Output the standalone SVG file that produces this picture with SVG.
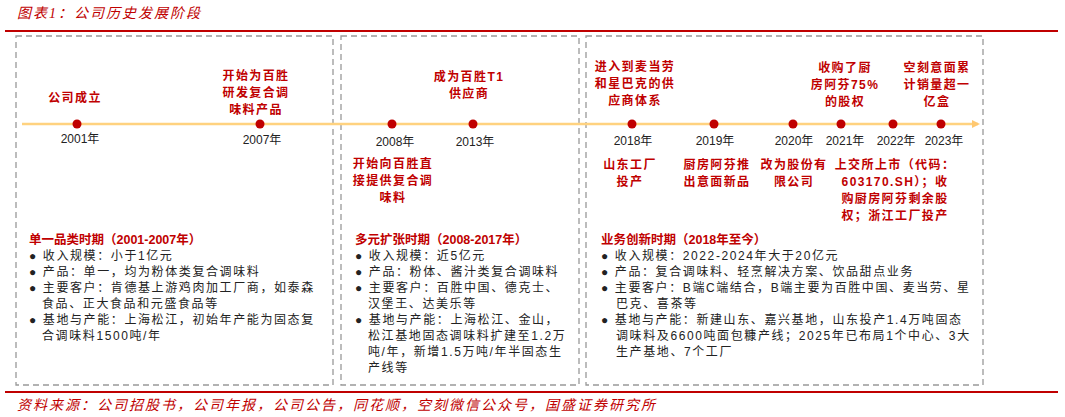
<svg xmlns="http://www.w3.org/2000/svg" width="1065" height="417" viewBox="0 0 1065 417">
<style>
.t{font-family:"Liberation Sans","Noto Sans CJK SC",sans-serif;font-size:12px;fill:#222;letter-spacing:1.6px}
.r{font-family:"Liberation Sans","Noto Sans CJK SC",sans-serif;font-size:12px;fill:#C00000;font-weight:bold;text-anchor:middle;letter-spacing:1.4px}
.h{font-family:"Liberation Sans","Noto Sans CJK SC",sans-serif;font-size:12.5px;fill:#C00000;font-weight:bold}
.y{font-family:"Liberation Sans","Noto Sans CJK SC",sans-serif;font-size:12px;fill:#222;text-anchor:middle}
.i{font-family:"Liberation Serif","Noto Sans CJK SC",serif;font-style:italic;font-size:14px;fill:#C00000;letter-spacing:2px}
.box{fill:none;stroke:#999;stroke-width:1.3;stroke-dasharray:6,4}
.dot{fill:#C00000}
</style>
<defs><marker id="ar" markerWidth="8" markerHeight="8" refX="6" refY="4" orient="auto" markerUnits="userSpaceOnUse"><path d="M0,0L8,4L0,8Z" fill="#FFC870"/></marker></defs>
<text class="i" x="17" y="18">图表1：公司历史发展阶段</text>
<line x1="5" y1="31" x2="1058" y2="31" stroke="#C00000" stroke-width="2"/>
<line x1="5" y1="392" x2="1058" y2="392" stroke="#C00000" stroke-width="2"/>
<g id="boxes">
<rect class="box" x="16" y="36" width="317" height="349"/>
<rect class="box" x="341" y="36" width="238" height="349"/>
<rect class="box" x="586" y="36" width="397" height="349"/>
</g>
<g id="connectors"><line x1="22" y1="124" x2="978" y2="124" stroke="#FFD27F" stroke-width="2.5" marker-end="url(#ar)"/></g>
<g id="n2001"><circle class="dot" cx="77" cy="124" r="4.5"/><text class="y" x="80" y="143">2001年</text><text class="r" x="75" y="102">公司成立</text></g>
<g id="n2007"><circle class="dot" cx="260" cy="124" r="4.5"/><text class="y" x="262" y="144">2007年</text><text class="r" x="256" y="80">开始为百胜</text><text class="r" x="256" y="97">研发复合调</text><text class="r" x="256" y="114">味料产品</text></g>
<g id="n2008"><circle class="dot" cx="392" cy="124" r="4.5"/><text class="y" x="395" y="146">2008年</text><text class="r" x="393" y="168">开始向百胜直</text><text class="r" x="393" y="185">接提供复合调</text><text class="r" x="393" y="202">味料</text></g>
<g id="n2013"><circle class="dot" cx="473" cy="124" r="4.5"/><text class="y" x="475" y="146">2013年</text><text class="r" x="469" y="81">成为百胜T1</text><text class="r" x="469" y="98">供应商</text></g>
<g id="n2018"><circle class="dot" cx="632" cy="124" r="4.5"/><text class="y" x="633" y="145">2018年</text><text class="r" x="635" y="71">进入到麦当劳</text><text class="r" x="635" y="88">和星巴克的供</text><text class="r" x="635" y="105">应商体系</text><text class="r" x="630" y="169">山东工厂</text><text class="r" x="630" y="186">投产</text></g>
<g id="n2019"><circle class="dot" cx="714" cy="124" r="4.5"/><text class="y" x="715" y="145">2019年</text><text class="r" x="717" y="169">厨房阿芬推</text><text class="r" x="717" y="186">出意面新品</text></g>
<g id="n2020"><circle class="dot" cx="793" cy="124" r="4.5"/><text class="y" x="794" y="145">2020年</text><text class="r" x="794" y="169">改为股份有</text><text class="r" x="794" y="186">限公司</text></g>
<g id="n2021"><circle class="dot" cx="841" cy="124" r="4.5"/><text class="y" x="845" y="145">2021年</text><text class="r" x="845" y="72">收购了厨</text><text class="r" x="845" y="89">房阿芬75%</text><text class="r" x="845" y="106">的股权</text><text class="r" x="895" y="169">上交所上市（代码：</text><text class="r" x="895" y="186">603170.SH）；收</text><text class="r" x="895" y="203">购厨房阿芬剩余股</text><text class="r" x="895" y="220">权；浙江工厂投产</text></g>
<g id="n2022"><circle class="dot" cx="893" cy="124" r="4.5"/><text class="y" x="896" y="145">2022年</text></g>
<g id="n2023"><circle class="dot" cx="941" cy="124" r="4.5"/><text class="y" x="944" y="145">2023年</text><text class="r" x="937" y="72">空刻意面累</text><text class="r" x="937" y="89">计销量超一</text><text class="r" x="937" y="106">亿盒</text></g>
<g id="p1">
<text class="h" x="29" y="244">单一品类时期（2001-2007年）</text>
<text class="t" x="29" y="260">●  收入规模：小于1亿元</text>
<text class="t" x="29" y="276">●  产品：单一，均为粉体类复合调味料</text>
<text class="t" x="29" y="292">●  主要客户：肯德基上游鸡肉加工厂商，如泰森</text>
<text class="t" x="42" y="308">食品、正大食品和元盛食品等</text>
<text class="t" x="29" y="324">●  基地与产能：上海松江，初始年产能为固态复</text>
<text class="t" x="42" y="340">合调味料1500吨/年</text>
</g>
<g id="p2">
<text class="h" x="355" y="244">多元扩张时期（2008-2017年）</text>
<text class="t" x="355" y="260">●  收入规模：近5亿元</text>
<text class="t" x="355" y="276">●  产品：粉体、酱汁类复合调味料</text>
<text class="t" x="355" y="292">●  主要客户：百胜中国、德克士、</text>
<text class="t" x="368" y="308">汉堡王、达美乐等</text>
<text class="t" x="355" y="324">●  基地与产能：上海松江、金山，</text>
<text class="t" x="368" y="340">松江基地固态调味料扩建至1.2万</text>
<text class="t" x="368" y="356">吨/年，新增1.5万吨/年半固态生</text>
<text class="t" x="368" y="372">产线等</text>
</g>
<g id="p3">
<text class="h" x="601" y="244">业务创新时期（2018年至今）</text>
<text class="t" x="601" y="260">●  收入规模：2022-2024年大于20亿元</text>
<text class="t" x="601" y="276">●  产品：复合调味料、轻烹解决方案、饮品甜点业务</text>
<text class="t" x="601" y="292">●  主要客户：B端C端结合，B端主要为百胜中国、麦当劳、星</text>
<text class="t" x="616" y="308">巴克、喜茶等</text>
<text class="t" x="601" y="324">●  基地与产能：新建山东、嘉兴基地，山东投产1.4万吨固态</text>
<text class="t" x="616" y="340">调味料及6600吨面包糠产线；2025年已布局1个中心、3大</text>
<text class="t" x="616" y="356">生产基地、7个工厂</text>
</g>
<text class="i" x="17" y="410">资料来源：公司招股书，公司年报，公司公告，同花顺，空刻微信公众号，国盛证券研究所</text>
</svg>
